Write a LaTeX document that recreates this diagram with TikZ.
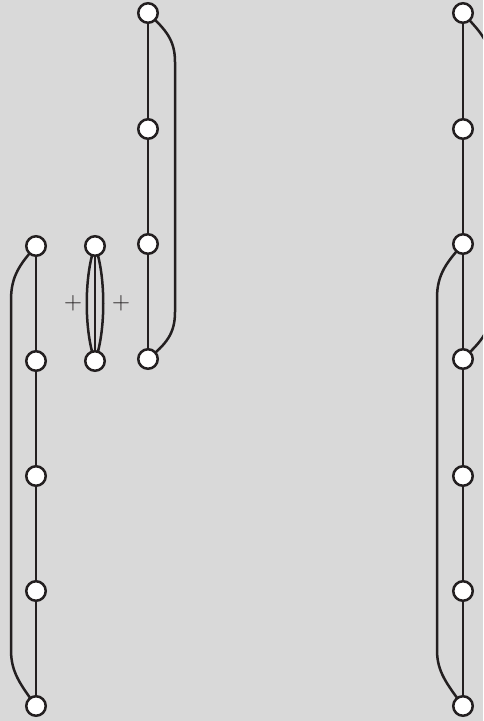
\documentclass[tikz,border=0pt]{standalone}
\definecolor{bg}{HTML}{D9D9D9}
\definecolor{ink}{HTML}{231F20}
\begin{document}
\begin{tikzpicture}[x=1pt,y=-1pt,
  vtx/.style={circle,draw=ink,fill=white,line width=2.5pt,minimum size=19.5pt,inner sep=0pt},
  edge/.style={draw=ink,line width=2.5pt},
  plus/.style={text=ink,inner sep=0pt,font=\fontsize{29}{29}\selectfont}]
\fill[bg] (0,0) rectangle (483,721);
\useasboundingbox (0,0) rectangle (483,721);
\begin{scope}
\clip (0,0) rectangle (483,721);
% left chain
\coordinate (L1) at (36,246);
\coordinate (L2) at (36,361);
\coordinate (L3) at (36,476);
\coordinate (L4) at (36,591);
\coordinate (L5) at (36,706);
% middle pair
\coordinate (M1) at (95,246);
\coordinate (M2) at (95,361);
% top chain
\coordinate (T1) at (148,13);
\coordinate (T2) at (148,129);
\coordinate (T3) at (148,244);
\coordinate (T4) at (148,359);
% right chain
\coordinate (R1) at (463,13);
\coordinate (R2) at (463,129);
\coordinate (R3) at (463,244);
\coordinate (R4) at (463,359);
\coordinate (R5) at (463,476);
\coordinate (R6) at (463,591);
\coordinate (R7) at (463,706);

\draw[edge] (L1) -- (L5);
\draw[edge] (L1) .. controls (20,264) and (11,276) .. (11,300) -- (11,650) .. controls (11,672) and (20,684) .. (L5);

\draw[edge] (M1) -- (M2);
\draw[edge] (M1) .. controls (84,275) and (84,332) .. (M2);
\draw[edge] (M1) .. controls (106,275) and (106,332) .. (M2);

\draw[edge] (T1) -- (T4);
\draw[edge] (T1) .. controls (166,30) and (175,40) .. (175,62) -- (175,312) .. controls (175,334) and (166,344) .. (T4);

\draw[edge] (R1) -- (R7);
\draw[edge] (R1) .. controls (478,30) and (490,40) .. (490,62) -- (490,312) .. controls (490,334) and (478,344) .. (R4);
\draw[edge] (R3) .. controls (447,262) and (437,274) .. (437,298) -- (437,650) .. controls (437,672) and (447,684) .. (R7);

\foreach \n in {L1,L2,L3,L4,L5,M1,M2,T1,T2,T3,T4,R1,R2,R3,R4,R5,R6,R7}
  \node[vtx] (n\n) at (\n) {};

\node[plus] (p1) at (73,303) {$+$};
\node[plus] (p2) at (121,303) {$+$};
\end{scope}
\end{tikzpicture}
\end{document}
